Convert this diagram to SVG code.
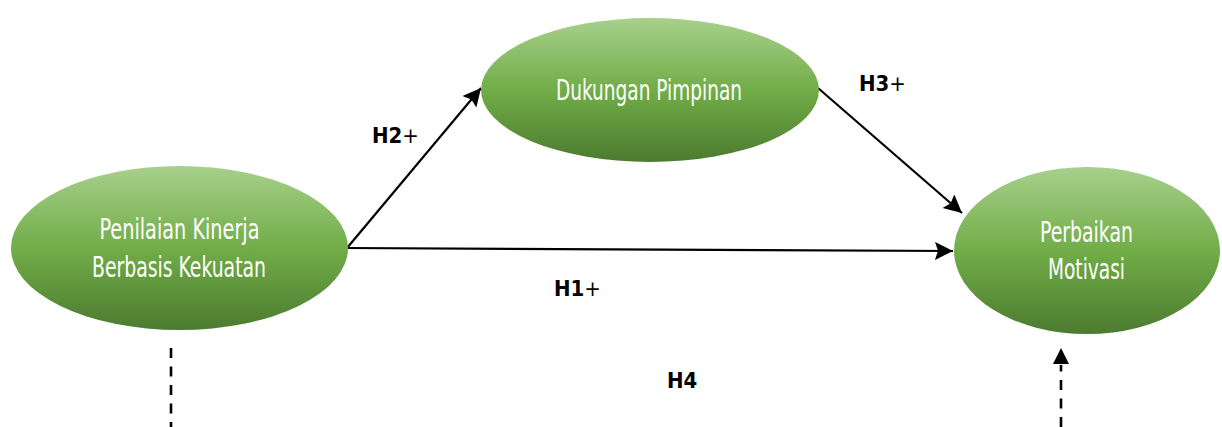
<svg xmlns="http://www.w3.org/2000/svg" width="1222" height="427" viewBox="0 0 1222 427">
  <style>
    .node-label { font-family: "Liberation Sans Narrow", "DejaVu Sans Condensed", "Liberation Sans", sans-serif; font-stretch: condensed; font-size: 29px; fill: #ffffff; text-anchor: middle; }
    .hyp { font-family: "Liberation Sans Narrow", "DejaVu Sans Condensed", "Liberation Sans", sans-serif; font-stretch: condensed; font-weight: bold; font-size: 22px; fill: #000000; }
    .plus { font-family: "DejaVu Sans", sans-serif; font-weight: normal; font-size: 22px; }
    .edge { stroke: #000000; stroke-width: 2.2; fill: none; }
    .dashed { stroke: #000000; stroke-width: 2.6; fill: none; stroke-dasharray: 10 8.5; }
  </style>
  <defs>
    <linearGradient id="greenFill" x1="0" y1="0" x2="0" y2="1">
      <stop offset="0" stop-color="#a8d08c"/>
      <stop offset="0.5" stop-color="#71ad48"/>
      <stop offset="1" stop-color="#4c7b2f"/>
    </linearGradient>
    <marker id="arrow" markerUnits="userSpaceOnUse" markerWidth="20" markerHeight="20" refX="18" refY="9" orient="auto">
      <path d="M0,0 L18,9 L0,18 L3,9 z" fill="#000000"/>
    </marker>
  </defs>

  <!-- connectors -->
  <g id="connectors">
    <line class="edge" x1="347" y1="248" x2="481" y2="88" marker-end="url(#arrow)"/>
    <line class="edge" x1="347" y1="248" x2="953" y2="251" marker-end="url(#arrow)"/>
    <line class="edge" x1="818" y1="88" x2="962" y2="213" marker-end="url(#arrow)"/>
    <line class="dashed" x1="171" y1="348" x2="171" y2="427"/>
    <line class="dashed" x1="1061" y1="427" x2="1061" y2="365"/>
    <path d="M1061,348 L1069,364 L1053,364 z" fill="#000000"/>
  </g>

  <g id="node-penilaian">
    <ellipse cx="179.5" cy="248" rx="168.5" ry="82" fill="url(#greenFill)"/>
    <text class="node-label" x="179.5" y="239" textLength="160" lengthAdjust="spacingAndGlyphs">Penilaian Kinerja</text>
    <text class="node-label" x="179" y="277" textLength="174" lengthAdjust="spacingAndGlyphs">Berbasis Kekuatan</text>
  </g>

  <g id="node-dukungan">
    <ellipse cx="650" cy="90" rx="169" ry="72" fill="url(#greenFill)"/>
    <text class="node-label" x="649" y="100" textLength="186" lengthAdjust="spacingAndGlyphs">Dukungan Pimpinan</text>
  </g>

  <g id="node-perbaikan">
    <ellipse cx="1087" cy="250.5" rx="133" ry="83.5" fill="url(#greenFill)"/>
    <text class="node-label" x="1086.5" y="242" textLength="93" lengthAdjust="spacingAndGlyphs">Perbaikan</text>
    <text class="node-label" x="1086.5" y="279" textLength="77" lengthAdjust="spacingAndGlyphs">Motivasi</text>
  </g>

  <g id="labels">
    <text class="hyp" x="372" y="143">H2<tspan class="plus">+</tspan></text>
    <text class="hyp" x="859" y="91">H3<tspan class="plus">+</tspan></text>
    <text class="hyp" x="554" y="296">H1<tspan class="plus">+</tspan></text>
    <text class="hyp" x="667" y="388">H4</text>
  </g>
</svg>
